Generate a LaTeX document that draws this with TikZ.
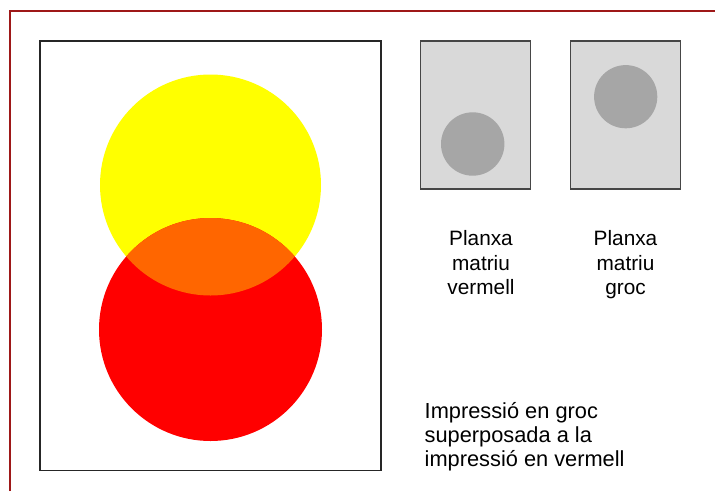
\documentclass[tikz,border=0pt]{standalone}
\usepackage{fontspec}
\setmainfont{Liberation Sans}
\definecolor{frame}{RGB}{158,24,24}
\definecolor{plate}{RGB}{217,217,217}
\definecolor{dot}{RGB}{166,166,166}
\definecolor{boxline}{RGB}{70,70,70}
\definecolor{yel}{RGB}{255,255,0}
\definecolor{rd}{RGB}{255,0,0}
\definecolor{orangeov}{RGB}{255,102,0}
\tikzset{
  platebox/.style={draw=boxline, line width=1.3pt, fill=plate},
  label/.style={font=\fontsize{20.8}{24.2}\selectfont, inner sep=0pt, align=center},
  caption/.style={font=\fontsize{21.8}{24.2}\selectfont, inner sep=0pt, align=left},
}
\begin{document}
\begin{tikzpicture}[x=1pt,y=-1pt]
\useasboundingbox (0,0) rectangle (715,491);
% outer frame
\draw[frame, line width=1.6pt] (10,491) -- (10,11) -- (715,11);
% big box
\draw[draw=black!85, line width=1.1pt] (40,41) rectangle (381,470.5);
% circles
\fill[yel] (210.5,185) circle [radius=110.5];
\fill[rd] (210.5,329.5) circle [radius=111.5];
\begin{scope}
  \clip (210.5,185) circle [radius=110.5];
  \fill[orangeov] (210.5,329.5) circle [radius=111.5];
\end{scope}
% plates
\draw[platebox] (420.7,41) rectangle (530.7,189);
\fill[dot] (472.7,144) circle [radius=31.7];
\draw[platebox] (570.7,41) rectangle (680.7,189);
\fill[dot] (625.7,96.7) circle [radius=31.6];
% labels
\node[label, anchor=base] (t1) at (481,294.2) {Planxa\\matriu\\vermell};
\node[label, anchor=base] (t2) at (625.5,294.2) {Planxa\\matriu\\groc};
\node[caption, anchor=base west] (t3) at (424.5,466.6) {Impressió en groc\\superposada a la\\impressió en vermell};
\end{tikzpicture}
\end{document}
